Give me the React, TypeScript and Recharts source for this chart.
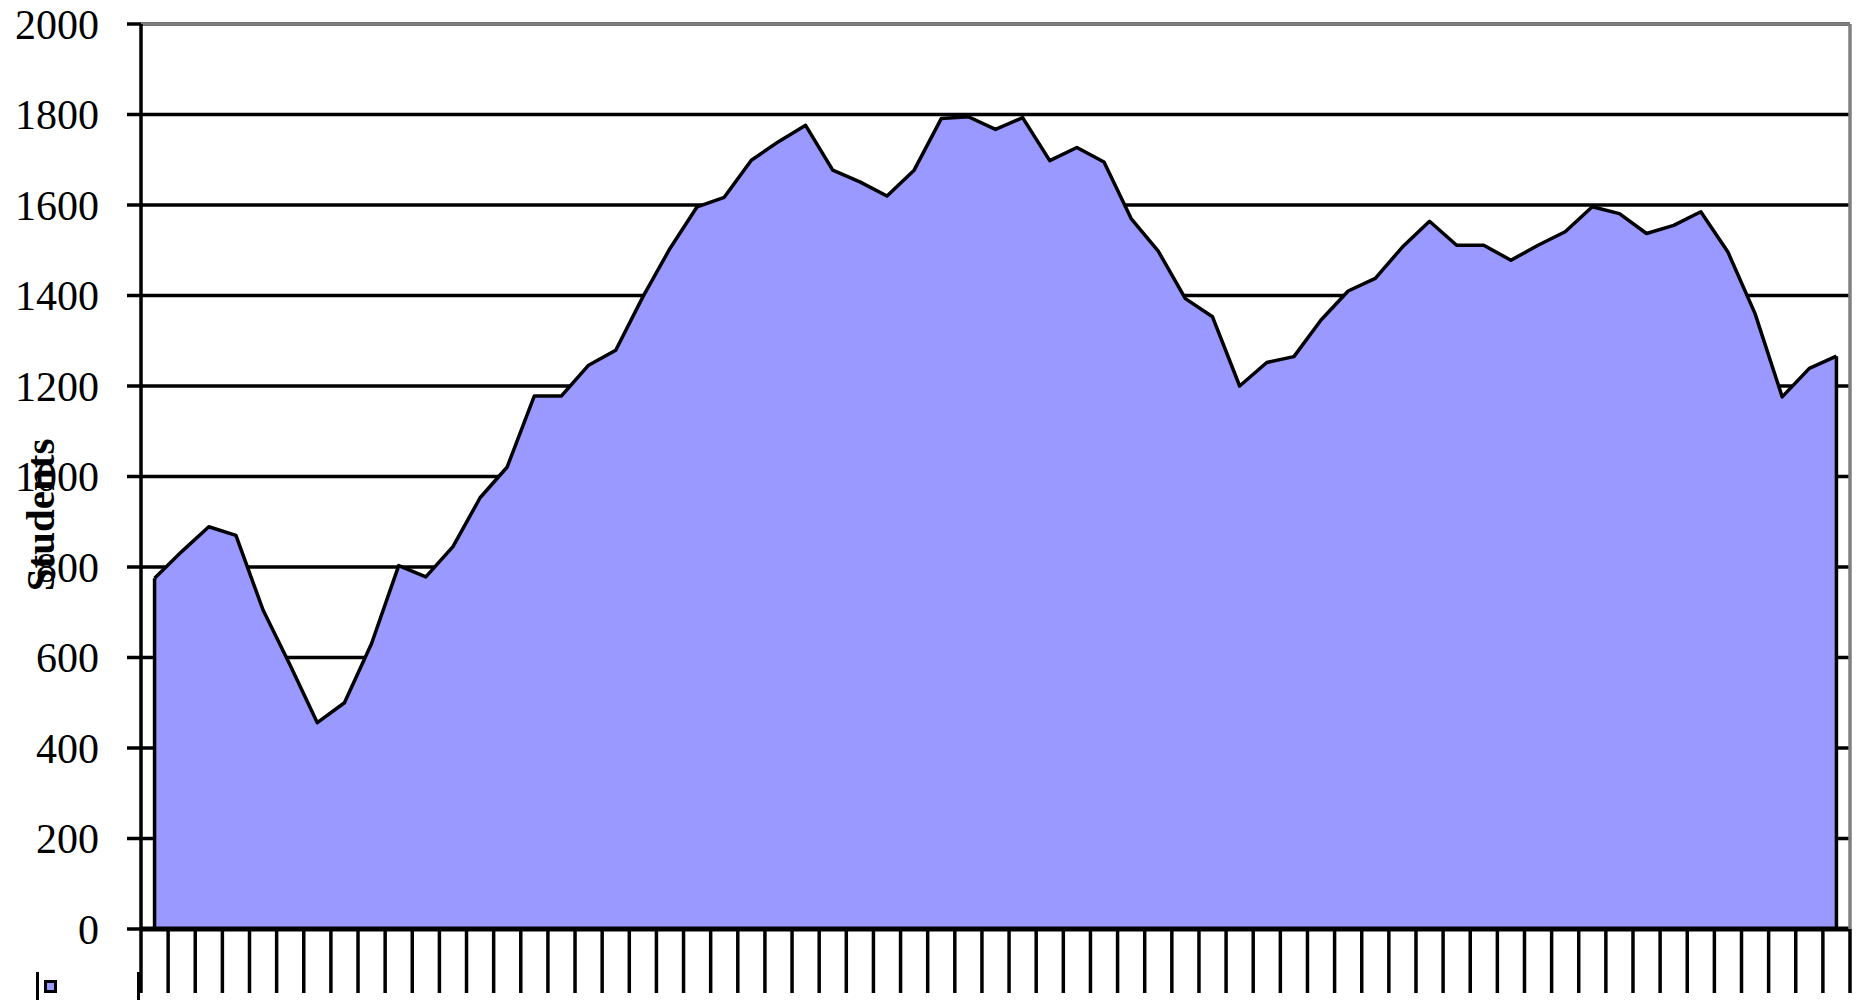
import React from 'react';
import { AreaChart, Area, XAxis, YAxis, CartesianGrid, ReferenceLine } from 'recharts';

const categories = [
  '1', '2', '3', '4', '5', '6', '7', '8', '9', '10',
  '11', '12', '13', '14', '15', '16', '17', '18', '19', '20',
  '21', '22', '23', '24', '25', '26', '27', '28', '29', '30',
  '31', '32', '33', '34', '35', '36', '37', '38', '39', '40',
  '41', '42', '43', '44', '45', '46', '47', '48', '49', '50',
  '51', '52', '53', '54', '55', '56', '57', '58', '59', '60',
  '61', '62', '63',
];

const students = [
  775, 834, 889, 870, 705, 583, 456, 500, 631, 803,
  778, 845, 953, 1021, 1178, 1178, 1246, 1279, 1397, 1504,
  1596, 1617, 1699, 1740, 1776, 1677, 1651, 1620, 1677, 1791,
  1795, 1767, 1793, 1698, 1727, 1695, 1570, 1498, 1393, 1353,
  1200, 1252, 1265, 1346, 1410, 1438, 1507, 1564, 1511, 1511,
  1478, 1511, 1541, 1596, 1581, 1537, 1555, 1585, 1496, 1360,
  1176, 1239, 1266,
];

const yTicks = [0, 200, 400, 600, 800, 1000, 1200, 1400, 1600, 1800, 2000];

const seriesName = 'Students';
const SERIES_COLOR = '#9999FF';

const data = categories.map((c, i) => ({ period: c, students: students[i] }));

const W = 1862;
const H = 1000;
const HALF_BAND = 13.56;

function XTick(props: any) {
  const { x, y, index } = props;
  const last = index === categories.length - 1;
  return (
    <g>
      <line x1={x - HALF_BAND} x2={x - HALF_BAND} y1={y} y2={y + 64} stroke="#000" strokeWidth={3.5} />
      {last && (
        <line x1={x + HALF_BAND} x2={x + HALF_BAND} y1={y} y2={y + 64} stroke="#000" strokeWidth={3.5} />
      )}
    </g>
  );
}

export default function App() {
  const first = categories[0];
  const lastCat = categories[categories.length - 1];
  return (
    <div style={{ position: 'absolute', left: 0, top: 0, width: W, height: H, background: '#fff' }}>
      <AreaChart
        width={W}
        height={H}
        data={data}
        margin={{ top: 24, right: 0, bottom: 0, left: 0 }}
      >
        <CartesianGrid horizontal vertical={false} stroke="#000" strokeWidth={3.5} />
        <XAxis
          dataKey="period"
          height={71}
          interval={0}
          padding={{ left: HALF_BAND, right: HALF_BAND }}
          tickSize={0}
          tickMargin={0}
          tickLine={false}
          axisLine={{ stroke: '#000', strokeWidth: 5 }}
          tick={<XTick />}
        />
        <YAxis
          width={141}
          domain={[0, 2000]}
          ticks={yTicks}
          interval={0}
          tickSize={14}
          tickMargin={28}
          axisLine={{ stroke: '#000', strokeWidth: 3.5 }}
          tickLine={{ stroke: '#000', strokeWidth: 3.5 }}
          tick={{ fill: '#000', fontSize: 42, fontFamily: '"Liberation Serif", serif' }}
        />
        <YAxis
          yAxisId="frame"
          orientation="right"
          width={12}
          domain={[0, 2000]}
          tick={false}
          tickLine={false}
          axisLine={{ stroke: '#808080', strokeWidth: 3.5 }}
        />
        <ReferenceLine y={2000} stroke="#808080" strokeWidth={3.5} />
        <Area
          type="linear"
          dataKey="students"
          name={seriesName}
          stroke="#000"
          strokeWidth={3.5}
          fill={SERIES_COLOR}
          fillOpacity={1}
          strokeLinejoin="round"
          isAnimationActive={false}
          dot={false}
          activeDot={false}
        />
        <ReferenceLine
          segment={[{ x: first, y: 0 }, { x: first, y: students[0] }]}
          stroke="#000"
          strokeWidth={3.5}
        />
        <ReferenceLine
          segment={[{ x: lastCat, y: 0 }, { x: lastCat, y: students[students.length - 1] }]}
          stroke="#000"
          strokeWidth={3.5}
        />
      </AreaChart>
      <svg
        width={W}
        height={H}
        style={{ position: 'absolute', left: 0, top: 0, pointerEvents: 'none' }}
      >
        <text
          x={54}
          y={515}
          transform="rotate(-90 54 515)"
          textAnchor="middle"
          fontFamily='"Liberation Serif", serif'
          fontWeight="bold"
          fontSize={41}
          fill="#000"
        >
          {seriesName}
        </text>
        <line x1={37.5} x2={37.5} y1={972} y2={1000} stroke="#000" strokeWidth={3} />
        <rect x={45.5} y={981.5} width={10} height={10} fill={SERIES_COLOR} stroke="#000" strokeWidth={3} />
        <line x1={138.5} x2={138.5} y1={972} y2={1000} stroke="#000" strokeWidth={3} />
      </svg>
    </div>
  );
}
